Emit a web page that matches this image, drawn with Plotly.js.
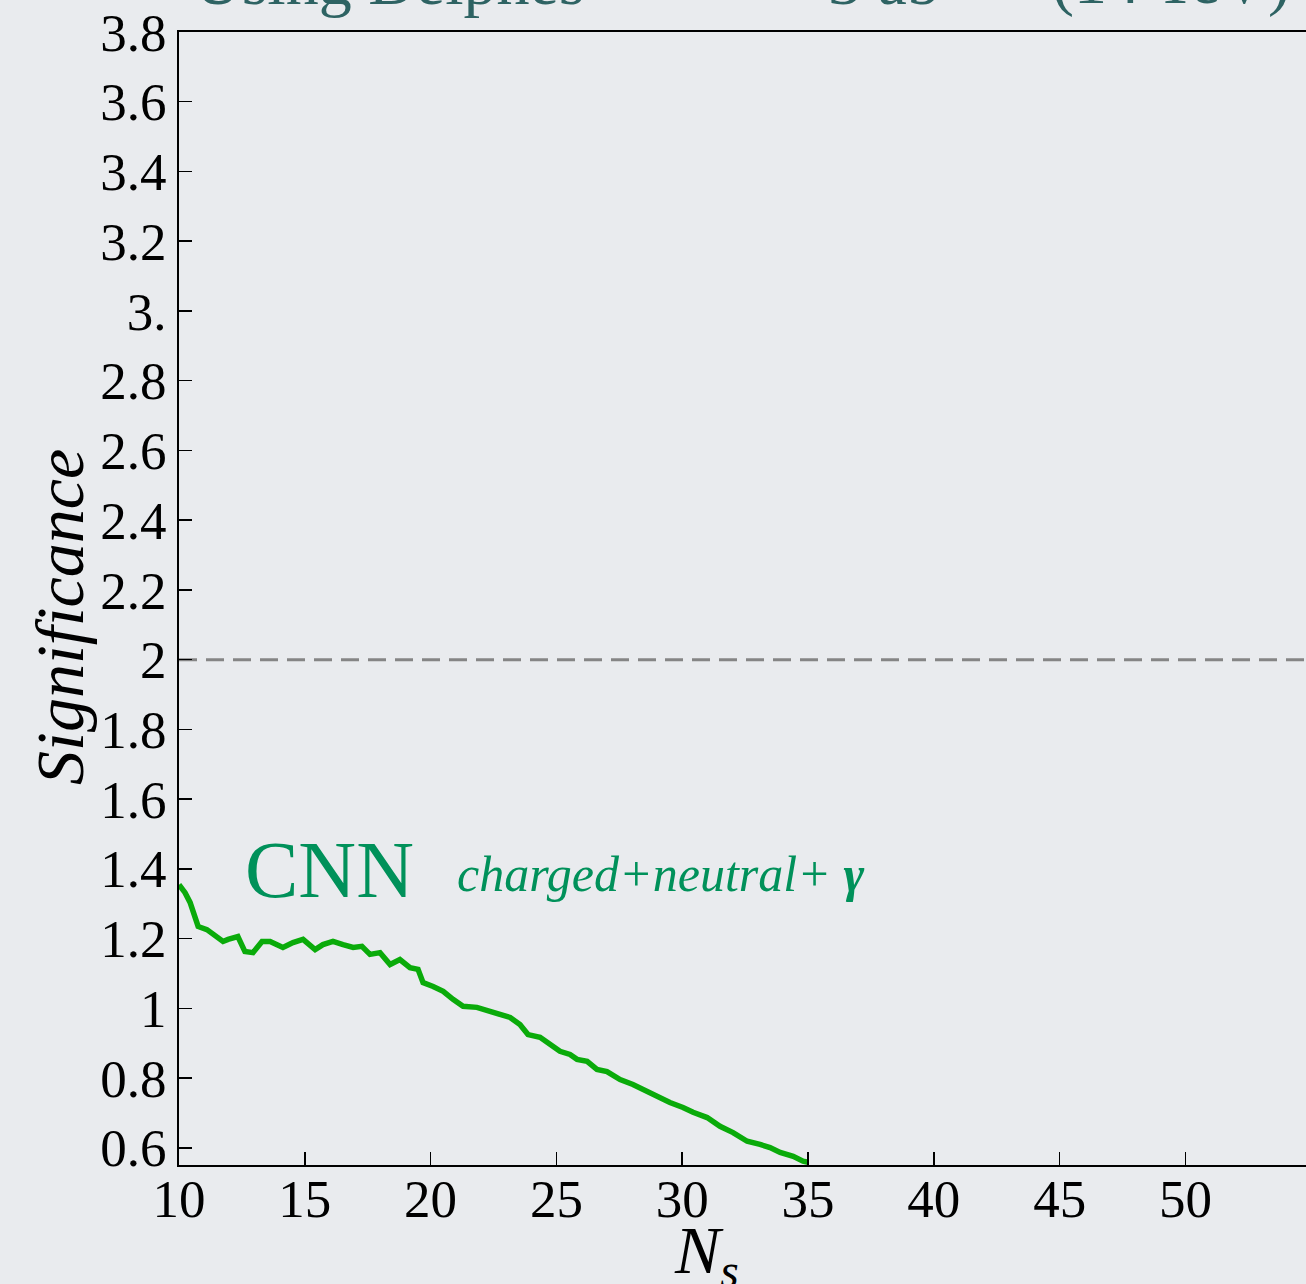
<!DOCTYPE html>
<html>
<head>
<meta charset="utf-8">
<script src="https://cdn.plot.ly/plotly-3.0.1.min.js"></script>
<style>
  html, body { margin: 0; padding: 0; background: #e9ebee; }
  #chart { width: 1306px; height: 1284px; }
</style>
</head>
<body>
<div id="chart"></div>
<script>
// Signal count N_s and the CNN significance (charged+neutral+photon inputs)
const nsValues = [10.0, 10.24, 10.44, 10.64, 10.76, 11.11, 11.35, 11.75, 11.95, 12.34,
  12.62, 12.94, 13.30, 13.62, 14.13, 14.53, 14.93, 15.41, 15.72, 16.12,
  16.52, 16.92, 17.27, 17.59, 17.99, 18.39, 18.78, 19.18, 19.50, 19.70,
  20.10, 20.50, 20.89, 21.29, 21.84, 22.36, 22.76, 23.16, 23.55, 23.87,
  24.35, 24.75, 25.14, 25.54, 25.82, 26.22, 26.61, 27.01, 27.53, 28.04,
  28.44, 29.00, 29.51, 30.03, 30.43, 30.99, 31.50, 32.02, 32.58, 33.09,
  33.49, 33.89, 34.41, 34.80, 35.0];
const cnnSignificance = [1.355, 1.332, 1.304, 1.263, 1.235, 1.226, 1.212, 1.192, 1.198, 1.206,
  1.163, 1.160, 1.192, 1.192, 1.175, 1.189, 1.198, 1.169, 1.183, 1.192,
  1.183, 1.175, 1.178, 1.155, 1.160, 1.126, 1.140, 1.117, 1.112, 1.074,
  1.063, 1.049, 1.026, 1.006, 1.003, 0.991, 0.983, 0.974, 0.954, 0.925,
  0.917, 0.897, 0.877, 0.868, 0.854, 0.848, 0.825, 0.819, 0.796, 0.782,
  0.768, 0.745, 0.730, 0.716, 0.702, 0.687, 0.662, 0.644, 0.619, 0.610,
  0.601, 0.587, 0.576, 0.562, 0.559];

// Reference significance level
const thresholdLevel = 2;

// Axis ticks
const xTickVals = [10, 15, 20, 25, 30, 35, 40, 45, 50];
const xTickText = ['10', '15', '20', '25', '30', '35', '40', '45', '50'];
const yTickVals = [0.6, 0.8, 1.0, 1.2, 1.4, 1.6, 1.8, 2.0, 2.2, 2.4, 2.6, 2.8, 3.0, 3.2, 3.4, 3.6, 3.8];
const yTickText = ['0.6', '0.8', '1', '1.2', '1.4', '1.6', '1.8', '2', '2.2', '2.4', '2.6', '2.8', '3.', '3.2', '3.4', '3.6', '3.8'];

const xRange = [10, 54.79];
const yRange = [0.551, 3.8];

const serif = "'Liberation Serif', 'Times New Roman', Times, serif";
const bg = '#e9ebee';
const labelGreen = '#00915a';
const headerTeal = '#2e6363';

const traces = [
  {
    x: xRange,
    y: [thresholdLevel, thresholdLevel],
    mode: 'lines',
    line: { color: '#858585', width: 3, dash: '18px,9px' },
    hoverinfo: 'skip',
    showlegend: false
  },
  {
    x: nsValues,
    y: cnnSignificance,
    mode: 'lines',
    line: { color: '#0aab0a', width: 5.5 },
    name: 'CNN',
    showlegend: false
  }
];

const axisCommon = {
  tickmode: 'array',
  ticks: 'inside',
  ticklen: 13,
  tickwidth: 1.5,
  tickcolor: '#000',
  showgrid: false,
  zeroline: false,
  showline: true,
  linecolor: '#000',
  linewidth: 2,
  mirror: true
};

const layout = {
  width: 1306,
  height: 1284,
  margin: { l: 179, r: 0, t: 32, b: 119 },
  paper_bgcolor: bg,
  plot_bgcolor: bg,
  showlegend: false,
  font: { family: serif, color: '#000' },
  xaxis: Object.assign({}, axisCommon, {
    range: xRange,
    tickvals: xTickVals,
    ticktext: xTickText,
    ticklabelstandoff: -14,
    tickfont: { family: serif, size: 53, color: '#000' }
  }),
  yaxis: Object.assign({}, axisCommon, {
    range: yRange,
    tickvals: yTickVals,
    ticktext: yTickText,
    tickfont: { family: serif, size: 53, color: '#000' }
  }),
  annotations: [
    // axis titles
    {
      xref: 'paper', yref: 'paper', x: (706 - 179) / 1127, y: (1165 - 1254) / 1133,
      xanchor: 'center', yanchor: 'middle',
      text: '<i>N<sub>s</sub></i>', showarrow: false,
      font: { family: serif, size: 68, color: '#000' }
    },
    {
      xref: 'paper', yref: 'paper', x: (60 - 179) / 1127, y: (1165 - 617) / 1133,
      xanchor: 'center', yanchor: 'middle', textangle: -90,
      text: '<i>Significance</i>', showarrow: false,
      font: { family: serif, size: 68, color: '#000' }
    },
    // curve label
    {
      xref: 'paper', yref: 'paper', x: (243 - 179) / 1127, y: (1165 - 870) / 1133,
      xanchor: 'left', yanchor: 'middle',
      text: 'CNN', showarrow: false,
      font: { family: serif, size: 80, color: labelGreen }
    },
    {
      xref: 'paper', yref: 'paper', x: (455 - 179) / 1127, y: (1165 - 874) / 1133,
      xanchor: 'left', yanchor: 'middle',
      text: '<i>charged+neutral+ <b>γ</b></i>', showarrow: false,
      font: { family: serif, size: 50, color: labelGreen }
    },
    // header line
    {
      xref: 'paper', yref: 'paper', x: (192 - 179) / 1127, y: 1.0 + 12 / 1133,
      xanchor: 'left', yanchor: 'bottom',
      text: 'Using Delphes', showarrow: false,
      font: { family: serif, size: 66, color: headerTeal }
    },
    {
      xref: 'paper', yref: 'paper', x: (826 - 179) / 1127, y: 1.0 + 12 / 1133,
      xanchor: 'left', yanchor: 'bottom',
      text: '3 ab<sup>−1</sup>', showarrow: false,
      font: { family: serif, size: 66, color: headerTeal }
    },
    {
      xref: 'paper', yref: 'paper', x: (1050 - 179) / 1127, y: 1.0 + 12 / 1133,
      xanchor: 'left', yanchor: 'bottom',
      text: '(14 TeV)', showarrow: false,
      font: { family: serif, size: 66, color: headerTeal }
    }
  ]
};

Plotly.newPlot('chart', traces, layout, { displayModeBar: false, staticPlot: true });
</script>
</body>
</html>
